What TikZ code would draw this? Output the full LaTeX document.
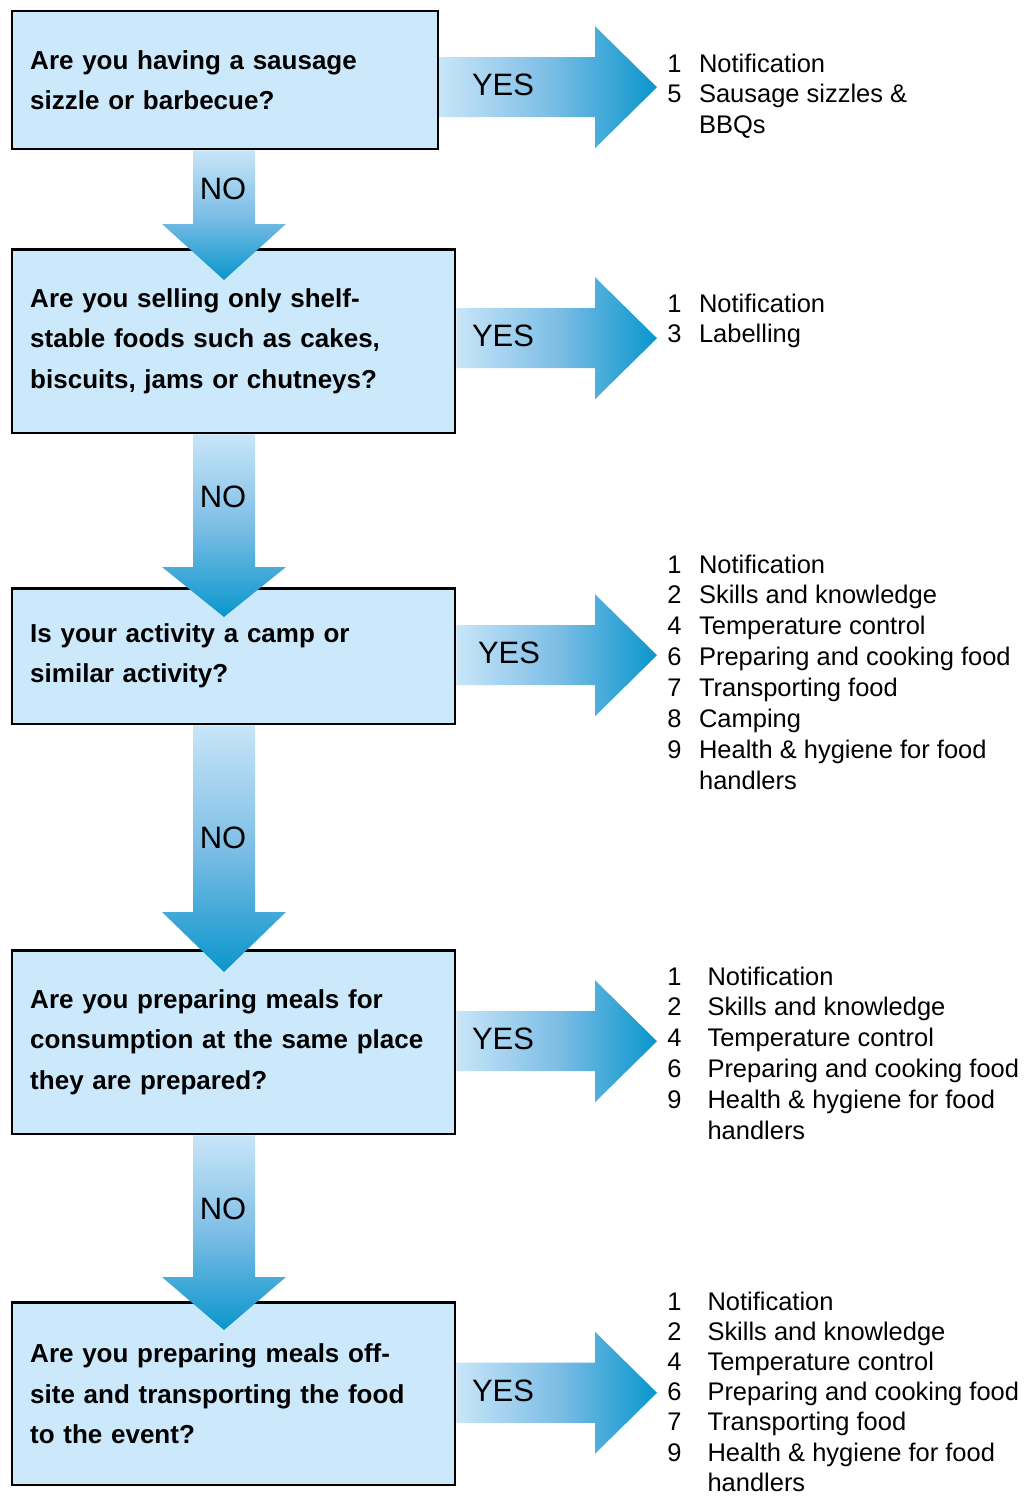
\documentclass[tikz,border=0pt]{standalone}
\usepackage{fontspec}
\setmainfont{Liberation Sans}
\usetikzlibrary{calc}
\definecolor{boxBlue}{RGB}{204, 233, 252}
\definecolor{arrLight}{RGB}{200, 229, 248}
\definecolor{arrMid}{RGB}{125, 190, 230}
\definecolor{arrDark}{RGB}{10, 150, 204}
\newcommand{\qfont}{\fontsize{14.8}{22.8}\selectfont\bfseries}
\newcommand{\lfont}{\fontsize{14.5}{17.6}\selectfont}
\newcommand{\afont}{\fontsize{17.6}{20}\selectfont}

\begin{document}
\begin{tikzpicture}[x=0.02cm, y=-0.02cm,
  question/.style={draw, line width=0.05cm, fill=boxBlue, anchor=north west, align=left,
    font=\qfont, inner xsep=0.36cm, minimum width=8.86cm, text width=8.14cm},
  result/.style={anchor=base west, inner sep=0pt, font=\lfont},
  answer/.style={font=\afont, inner sep=0pt},
  yes arrow/.style={left color=arrLight, right color=arrDark, middle color=arrMid},
  no arrow/.style={top color=arrLight, bottom color=arrDark, middle color=arrMid}]
  \useasboundingbox (0,0) rectangle (1029,1497);

  % Questions
  \node[question, minimum width=8.52cm, text width=7.8cm, minimum height=2.76cm] (q1) at (11,10) {Are you having a sausage\\sizzle or barbecue?};
  \node[question, minimum height=3.68cm] (q2) at (11,248) {Are you selling only shelf-\\stable foods such as cakes,\\biscuits, jams or chutneys?};
  \node[question, minimum height=2.72cm] (q3) at (11,587) {Is your activity a camp or\\similar activity?};
  \node[question, minimum height=3.68cm] (q4) at (11,949) {Are you preparing meals for\\consumption at the same place\\they are prepared?};
  \node[question, minimum height=3.66cm] (q5) at (11,1301) {Are you preparing meals off-\\site and transporting the food\\to the event?};

  % Results
  \node[result] (r1) at (667,72) {\begin{tabular}[t]{@{}l@{\hspace{10pt}}l@{}}
    1 & Notification\\ 5 & Sausage sizzles \&\\ & BBQs\end{tabular}};
  \node[result] (r2) at (667,312) {\begin{tabular}[t]{@{}l@{\hspace{10pt}}l@{}}
    1 & Notification\\ 3 & Labelling\end{tabular}};
  \node[result] (r3) at (667,573) {\begin{tabular}[t]{@{}l@{\hspace{10pt}}l@{}}
    1 & Notification\\ 2 & Skills and knowledge\\ 4 & Temperature control\\
    6 & Preparing and cooking food\\ 7 & Transporting food\\ 8 & Camping\\
    9 & Health \& hygiene for food\\ & handlers\end{tabular}};
  \node[result] (r4) at (667,985) {\begin{tabular}[t]{@{}l@{\hspace{14.8pt}}l@{}}
    1 & Notification\\ 2 & Skills and knowledge\\ 4 & Temperature control\\
    6 & Preparing and cooking food\\ 9 & Health \& hygiene for food\\ & handlers\end{tabular}};
  \node[result, font=\fontsize{14.5}{17.2}\selectfont] (r5) at (667,1310) {\begin{tabular}[t]{@{}l@{\hspace{14.8pt}}l@{}}
    1 & Notification\\ 2 & Skills and knowledge\\ 4 & Temperature control\\
    6 & Preparing and cooking food\\ 7 & Transporting food\\
    9 & Health \& hygiene for food\\ & handlers\end{tabular}};

  % Arrow guides
  \coordinate (nox) at (224,0);
  \coordinate (headx) at (595,0);
  \coordinate (tipx) at (657,0);

  % NO arrows
  \foreach \i/\j/\hd/\tp/\ny in {1/2/24/32/189, 2/3/20/30/497, 3/4/37/23/838, 4/5/24/29/1209} {
    \shade[no arrow] ($(nox |- q\i.south)+(-31,0)$) -- ($(nox |- q\j.north)+(-31,-\hd)$) -- ++(-31,0)
      -- ($(nox |- q\j.north)+(0,\tp)$) -- ($(nox |- q\j.north)+(62,-\hd)$) -- ++(-31,0)
      -- ($(nox |- q\i.south)+(31,0)$) -- cycle;
    \node[answer] (no\i) at (223,\ny) {NO};
  }

  % YES arrows
  \foreach \i/\dy/\dx in {1/7/0, 2/-3/0, 3/-1/6, 4/-1/0, 5/-1/0} {
    \coordinate (a\i) at ($(q\i.east)+(0,\dy)$);
    \shade[yes arrow] ($(a\i)+(0,-30)$) -- ($(headx |- a\i)+(0,-30)$) -- ++(0,-31)
      -- (tipx |- a\i) -- ($(headx |- a\i)+(0,61)$) -- ++(0,-31)
      -- ($(a\i)+(0,30)$) -- cycle;
    \node[answer] (yes\i) at ($(tipx |- a\i)+(-154+\dx,-2)$) {YES};
  }
\end{tikzpicture}
\end{document}
